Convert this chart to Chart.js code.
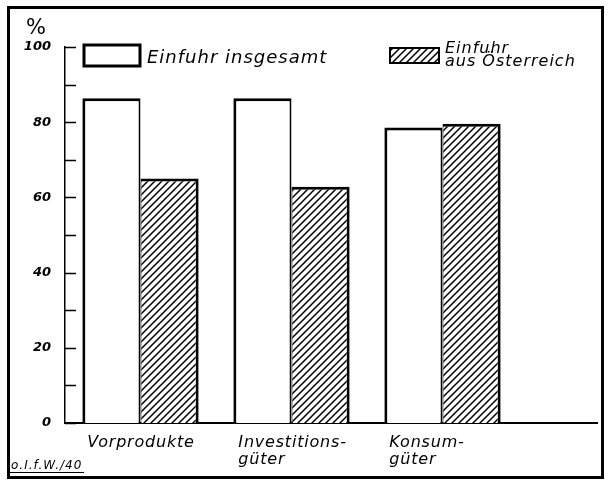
<!DOCTYPE html>
<html>
<head>
<meta charset="utf-8">
<script src="https://cdn.jsdelivr.net/npm/chart.js@4"></script>
<style>
  html, body { margin: 0; padding: 0; background: #fff; }
  #wrap { position: relative; width: 609px; height: 482px; }
</style>
</head>
<body>
<div id="wrap"><canvas id="myChart"></canvas></div>
<script>
// data
const categories = [['Vorprodukte'], ['Investitions-', 'güter'], ['Konsum-', 'güter']];
const seriesNames = [['Einfuhr insgesamt'], ['Einfuhr', 'aus Österreich']];
const totalImport = [86.4, 86.4, 78.6];
const fromAustria = [65.0, 62.8, 79.6];
const yTicks = [0, 20, 40, 60, 80, 100];
const unitLabel = '%';
const sourceNote = 'o.I.f.W./40';

const FONT = '"DejaVu Sans", sans-serif';

function hatch() {
  const n = 7;
  const c = document.createElement('canvas');
  c.width = n; c.height = n;
  const g = c.getContext('2d');
  g.fillStyle = '#fff';
  g.fillRect(0, 0, n, n);
  g.strokeStyle = '#000';
  g.lineWidth = 1.5;
  g.beginPath();
  g.moveTo(0, n); g.lineTo(n, 0);
  g.moveTo(-1, 1); g.lineTo(1, -1);
  g.moveTo(n - 1, n + 1); g.lineTo(n + 1, n - 1);
  g.stroke();
  return g.createPattern(c, 'repeat');
}
const hatchFill = hatch();

const decor = {
  id: 'decor',
  beforeDraw(chart) {
    const ctx = chart.ctx;
    ctx.save();
    ctx.fillStyle = '#fff';
    ctx.fillRect(0, 0, chart.width, chart.height);
    ctx.strokeStyle = '#000';
    ctx.lineWidth = 3;
    ctx.strokeRect(8.5, 7.5, 594, 470);
    ctx.restore();
  },
  afterDraw(chart) {
    const ctx = chart.ctx;
    const area = chart.chartArea;
    const y = chart.scales.y, x = chart.scales.x;
    ctx.save();
    ctx.strokeStyle = '#000';
    ctx.fillStyle = '#000';

    // inward ticks every 10
    ctx.lineWidth = 1.5;
    y.ticks.forEach(t => {
      const py = Math.round(y.getPixelForValue(t.value)) + 0.5;
      ctx.beginPath();
      ctx.moveTo(area.left, py);
      ctx.lineTo(area.left + 11, py);
      ctx.stroke();
    });

    // baseline runs on past the last group
    ctx.lineWidth = 2;
    ctx.beginPath();
    ctx.moveTo(area.right - 2, area.bottom);
    ctx.lineTo(598, area.bottom);
    ctx.stroke();

    // % sign
    ctx.font = '21px ' + FONT;
    ctx.textAlign = 'center';
    ctx.textBaseline = 'alphabetic';
    ctx.fillText(unitLabel, 36, 34);

    // category labels, left aligned at group start
    ctx.font = 'italic 16px ' + FONT;
    ctx.letterSpacing = '0.8px';
    ctx.textAlign = 'left';
    const half = (area.right - area.left) / categories.length * 0.77 / 2;
    categories.forEach((lines, i) => {
      const cx = x.getPixelForValue(i);
      lines.forEach((s, j) => {
        ctx.fillText(s, cx - half + 5, area.bottom + 24 + j * 17);
      });
    });

    // legend
    const ds = chart.data.datasets;
    ctx.lineWidth = 3;
    ctx.fillStyle = ds[0].backgroundColor;
    ctx.fillRect(84, 45, 56, 21);
    ctx.strokeRect(84, 45, 56, 21);
    ctx.fillStyle = '#000';
    ctx.font = 'italic 18px ' + FONT;
    ctx.letterSpacing = '1px';
    ctx.fillText(seriesNames[0][0], 147, 63);

    ctx.lineWidth = 2;
    ctx.fillStyle = ds[1].backgroundColor;
    ctx.fillRect(390, 48, 49, 15);
    ctx.strokeRect(390, 48, 49, 15);
    ctx.fillStyle = '#000';
    ctx.font = 'italic 16px ' + FONT;
    seriesNames[1].forEach((s, j) => ctx.fillText(s, 445, 53 + j * 13));

    // source note
    ctx.font = 'italic 12px ' + FONT;
    ctx.letterSpacing = '1px';
    ctx.fillText(sourceNote, 11, 469);
    ctx.lineWidth = 1;
    ctx.beginPath();
    ctx.moveTo(10, 472.5);
    ctx.lineTo(84, 472.5);
    ctx.stroke();
    ctx.restore();
  }
};

const ctx = document.getElementById('myChart').getContext('2d');
const myChart = new Chart(ctx, {
  type: 'bar',
  data: {
    labels: categories,
    datasets: [{
      label: seriesNames[0].join(' '),
      data: totalImport,
      backgroundColor: '#fff',
      borderColor: '#000',
      borderWidth: { top: 3, left: 3, right: 2, bottom: 0 },
      borderSkipped: false
    }, {
      label: seriesNames[1].join(' '),
      data: fromAustria,
      backgroundColor: hatchFill,
      borderColor: '#000',
      borderWidth: { top: 3, left: 1, right: 3, bottom: 0 },
      borderSkipped: false
    }]
  },
  options: {
    responsive: true,
    maintainAspectRatio: false,
    animation: false,
    events: [],
    categoryPercentage: 0.77,
    barPercentage: 1,
    layout: { padding: { left: 0, right: 91, top: 47, bottom: 0 } },
    plugins: {
      legend: { display: false },
      tooltip: { enabled: false }
    },
    scales: {
      x: {
        grid: { display: false },
        border: { display: true, color: '#000', width: 2 },
        ticks: { display: false },
        afterFit(s) { s.height = 59; }
      },
      y: {
        min: 0,
        max: 100,
        grid: { display: false, drawTicks: false },
        border: { display: true, color: '#000', width: 1.5 },
        ticks: {
          stepSize: 10,
          padding: 14,
          color: '#000',
          font: { family: FONT, size: 13, style: 'italic', weight: 'bold' },
          callback: v => yTicks.includes(v) ? String(v) : ''
        },
        afterFit(s) { s.width = 65; }
      }
    }
  },
  plugins: [decor]
});
</script>
</body>
</html>
